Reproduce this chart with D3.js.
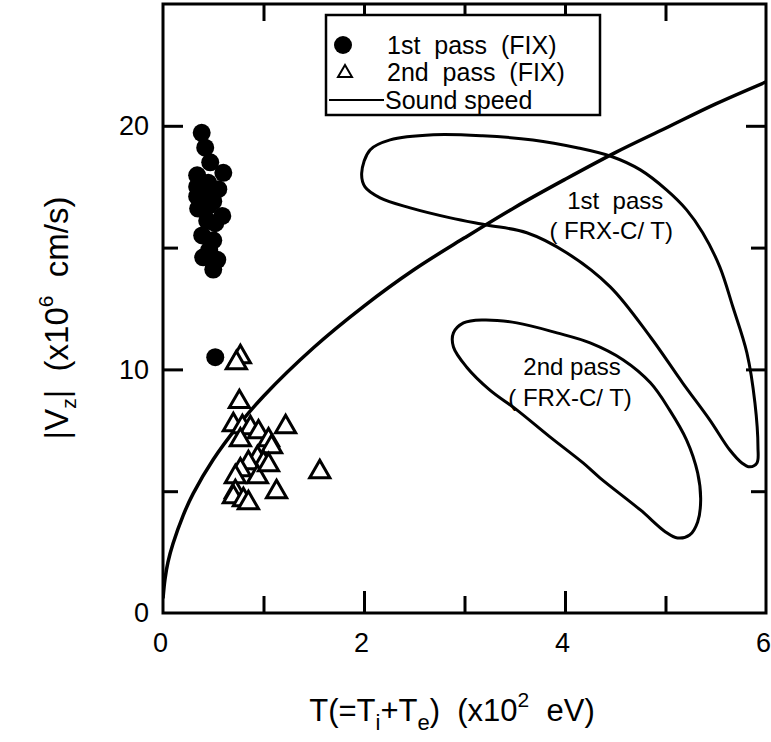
<!DOCTYPE html>
<html><head><meta charset="utf-8">
<script src="https://cdn.jsdelivr.net/npm/d3@7"></script>
<style>body{margin:0;background:#fff}svg{display:block}text{font-family:"Liberation Sans",Arial,sans-serif;fill:#000}</style>
</head><body>
<svg id="c" width="771" height="742"></svg>
<script>
// ---- data ----
const xTickLabels = [0, 2, 4, 6];
const yTickLabels = [0, 10, 20];
const xMajorTicks = [2, 4], xMinorTicks = [1, 3, 5];
const yMajorTicks = [10, 20], yMinorTicks = [5, 15];

// 1st pass (FIX): [T, |Vz|]
const firstPassFIX = [
  [0.385,19.71],[0.42,19.1],[0.47,18.5],[0.34,17.97],[0.60,18.07],[0.34,17.5],
  [0.45,17.66],[0.34,17.1],[0.50,16.9],[0.35,16.6],[0.59,16.3],[0.44,16.1],
  [0.39,15.5],[0.40,14.6],[0.54,14.5],[0.50,14.1],[0.52,10.5],
  [0.48,17.2],[0.55,17.4],[0.45,16.7],[0.52,16.0],[0.40,17.3],[0.46,14.9],[0.50,15.3]
];
// 2nd pass (FIX)
const secondPassFIX = [
  [0.77,10.51],[0.73,10.27],[0.76,8.67],[0.70,7.72],[0.79,7.64],[0.87,7.60],
  [0.95,7.43],[1.05,7.10],[1.08,6.82],[0.77,7.10],[1.22,7.64],[0.94,6.37],
  [1.00,6.16],[0.85,6.16],[0.77,5.87],[0.72,5.59],[0.94,5.59],[1.05,6.08],
  [1.56,5.79],[0.72,4.97],[0.70,4.76],[0.80,4.64],[0.85,4.52],[1.13,4.97]
];
// Sound speed curve
const soundSpeed = [
  [0,0.6],[0.02,1.4],[0.05,2.1],[0.1,2.85],[0.2,4.0],[0.3,4.9],[0.5,6.3],
  [0.75,7.7],[1,8.9],[1.5,10.9],[2,12.6],[2.5,14.1],[3,15.4],[3.5,16.65],
  [4,17.8],[4.5,18.9],[5,19.9],[5.5,20.9],[6,21.8]
];
// 1st pass (FRX-C/T) contour
const firstPassFRX = [
  [1.977,18.06],[2.06,19.01],[2.26,19.42],[2.69,19.63],[3.18,19.59],[3.68,19.42],
  [4.12,19.10],[4.47,18.73],[4.75,18.19],[5.01,17.37],[5.21,16.55],[5.37,15.61],
  [5.54,14.21],[5.67,12.57],[5.81,10.68],[5.89,8.62],[5.92,6.82],[5.91,6.16],
  [5.84,6.00],[5.76,6.16],[5.64,6.69],[5.44,7.93],[5.17,9.45],[4.85,11.33],
  [4.45,13.39],[4.02,14.78],[3.62,15.61],[3.22,15.93],[2.86,16.22],[2.46,16.63],
  [2.16,17.04],[2.01,17.49]
];
// 2nd pass (FRX-C/T) contour
const secondPassFRX = [
  [2.89,11.50],[2.99,11.91],[3.18,12.03],[3.52,11.91],[3.92,11.50],[4.25,11.09],
  [4.58,10.39],[4.85,9.45],[5.04,8.34],[5.21,7.10],[5.32,5.75],[5.35,4.64],
  [5.32,3.74],[5.24,3.20],[5.12,3.08],[5.00,3.33],[4.75,4.23],[4.35,5.54],
  [4.18,6.16],[3.85,7.23],[3.52,8.34],[3.25,9.16],[3.02,10.10],[2.89,10.92]
];
const legendLabels = ["1st  pass  (FIX)", "2nd  pass  (FIX)", "Sound speed"];

// ---- drawing ----
const svg = d3.select("#c");
const L = 163, R = 766, T = 4, B = 613;
const x = d3.scaleLinear([0, 6], [L, R]);
const y = d3.scaleLinear([0, 25], [B, T]);

svg.append("defs").append("clipPath").attr("id","clip")
  .append("rect").attr("x",L).attr("y",T).attr("width",R-L).attr("height",B-T);

const plot = svg.append("g").attr("clip-path","url(#clip)");

const lineOpen = d3.line().x(d=>x(d[0])).y(d=>y(d[1])).curve(d3.curveCatmullRom.alpha(0.5));
const lineClosed = d3.line().x(d=>x(d[0])).y(d=>y(d[1])).curve(d3.curveCatmullRomClosed.alpha(0.5));

plot.append("path").attr("d", lineClosed(firstPassFRX)).attr("fill","none").attr("stroke","#000").attr("stroke-width",3);
plot.append("path").attr("d", lineClosed(secondPassFRX)).attr("fill","none").attr("stroke","#000").attr("stroke-width",3);
plot.append("path").attr("d", lineOpen(soundSpeed)).attr("fill","none").attr("stroke","#000").attr("stroke-width",3.5);

const tri = d3.symbol().type(d3.symbolTriangle).size(175);
plot.selectAll(".tri").data(secondPassFIX).join("path")
  .attr("d", tri).attr("transform", d=>`translate(${x(d[0])},${y(d[1])})`)
  .attr("fill","#fff").attr("stroke","#000").attr("stroke-width",3);
plot.selectAll(".dot").data(firstPassFIX).join("circle")
  .attr("cx", d=>x(d[0])).attr("cy", d=>y(d[1])).attr("r", 9).attr("fill","#000");

// contour labels
const lab = svg.append("g").attr("font-size",24).attr("text-anchor","middle");
lab.append("text").attr("x", x(4.5)).attr("y", y(16.6)).attr("xml:space","preserve").text("1st  pass");
lab.append("text").attr("x", x(4.46)).attr("y", y(15.35)).attr("xml:space","preserve").text("( FRX-C/ T)");
lab.append("text").attr("x", x(4.07)).attr("y", y(9.75)).text("2nd pass");
lab.append("text").attr("x", x(4.05)).attr("y", y(8.5)).attr("xml:space","preserve").text("( FRX-C/ T)");

// axes (inward ticks)
function axisTicks(gen, vals, size, tr) {
  svg.append("g").attr("transform", tr)
    .call(gen.tickValues(vals).tickSize(size).tickFormat(""))
    .call(g=>g.select(".domain").remove())
    .call(g=>g.selectAll("line").attr("stroke","#000").attr("stroke-width",3));
}
axisTicks(d3.axisBottom(x), xMajorTicks, -22, `translate(0,${B})`);
axisTicks(d3.axisBottom(x), xMinorTicks, -17, `translate(0,${B})`);
axisTicks(d3.axisTop(x), xMajorTicks, -22, `translate(0,${T})`);
axisTicks(d3.axisTop(x), xMinorTicks, -17, `translate(0,${T})`);
axisTicks(d3.axisLeft(y), yMajorTicks, -20, `translate(${L},0)`);
axisTicks(d3.axisLeft(y), yMinorTicks, -15, `translate(${L},0)`);
axisTicks(d3.axisRight(y), yMajorTicks, -20, `translate(${R},0)`);
axisTicks(d3.axisRight(y), yMinorTicks, -15, `translate(${R},0)`);

// tick labels
svg.append("g").attr("transform",`translate(0,${B})`)
  .call(d3.axisBottom(x).tickValues(xTickLabels).tickSize(0).tickPadding(20).tickFormat(d3.format("d")))
  .call(g=>g.select(".domain").remove())
  .call(g=>g.selectAll("text").attr("font-size",27).attr("dx",-3).attr("font-family","Liberation Sans, Arial, sans-serif"));
svg.append("g").attr("transform",`translate(${L},0)`)
  .call(d3.axisLeft(y).tickValues(yTickLabels).tickSize(0).tickPadding(14).tickFormat(d3.format("d")))
  .call(g=>g.select(".domain").remove())
  .call(g=>g.selectAll("text").attr("font-size",27).attr("font-family","Liberation Sans, Arial, sans-serif"));

// frame
svg.append("rect").attr("x",L).attr("y",T).attr("width",R-L).attr("height",B-T)
  .attr("fill","none").attr("stroke","#000").attr("stroke-width",3);

// legend
const lg = svg.append("g");
lg.append("rect").attr("x",326).attr("y",15).attr("width",274).attr("height",100)
  .attr("fill","#fff").attr("stroke","#000").attr("stroke-width",2.5);
const rows = [45, 72, 100];
lg.append("circle").attr("cx",343).attr("cy",rows[0]).attr("r",9).attr("fill","#000");
lg.append("path").attr("d", d3.symbol().type(d3.symbolTriangle).size(85)())
  .attr("transform",`translate(345,${rows[1]+1})`).attr("fill","#fff").attr("stroke","#000").attr("stroke-width",2);
lg.append("line").attr("x1",329).attr("x2",384).attr("y1",rows[2]).attr("y2",rows[2]).attr("stroke","#000").attr("stroke-width",2);
legendLabels.forEach((t,i)=>{
  lg.append("text").attr("x", i===2 ? 385 : 387).attr("y", rows[i]+9).attr("font-size",25)
    .attr("xml:space","preserve").text(t);
});

// axis titles
const xt = svg.append("text").attr("x",452).attr("y",721).attr("text-anchor","middle").attr("font-size",31);
xt.append("tspan").text("T(=T");
xt.append("tspan").attr("font-size",22).attr("dy",9).text("i");
xt.append("tspan").attr("dy",-9).text("+T");
xt.append("tspan").attr("font-size",22).attr("dy",9).text("e");
xt.append("tspan").attr("dy",-9).attr("xml:space","preserve").text(")  (x10");
xt.append("tspan").attr("font-size",21).attr("dy",-14).text("2");
xt.append("tspan").attr("dy",14).attr("xml:space","preserve").text("  eV)");

const yt = svg.append("text").attr("transform","translate(68,318) rotate(-90)").attr("text-anchor","middle").attr("font-size",33);
yt.append("tspan").text("|V");
yt.append("tspan").attr("font-size",21).attr("dy",8).text("z");
yt.append("tspan").attr("dy",-8).attr("xml:space","preserve").text("|  (x10");
yt.append("tspan").attr("font-size",21).attr("dy",-15).text("6");
yt.append("tspan").attr("dy",15).attr("xml:space","preserve").text("  cm/s)");
</script>
</body></html>
